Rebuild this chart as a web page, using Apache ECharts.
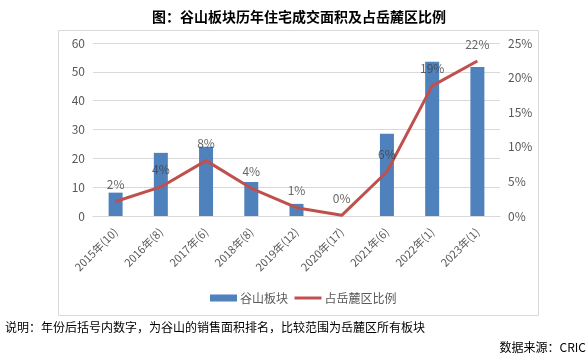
<!DOCTYPE html>
<html>
<head>
<meta charset="utf-8">
<script src="https://cdn.jsdelivr.net/npm/echarts@6/dist/echarts.min.js"></script>
<style>
html,body{margin:0;padding:0;background:#fff;}
#c{width:588px;height:364px;}
</style>
</head>
<body>
<div id="c"></div>
<script>
var categories = ['2015年(10)','2016年(8)','2017年(6)','2018年(8)','2019年(12)','2020年(17)','2021年(6)','2022年(1)','2023年(1)'];
var areaValues = [8.1, 21.9, 24, 11.8, 4.2, 0, 28.5, 53.5, 51.7];
var shareValues = [2.1, 4.2, 8.0, 4.0, 1.2, 0.1, 6.4, 18.8, 22.4];
var shareLabels = ['2%','4%','8%','4%','1%','0%','6%','19%','22%'];
var leftTicks = {min: 0, max: 60, interval: 10};
var rightTicks = {min: 0, max: 25, interval: 5};
var titleText = '图：谷山板块历年住宅成交面积及占岳麓区比例';
var noteText = '说明：年份后括号内数字，为谷山的销售面积排名，比较范围为岳麓区所有板块';
var sourceText = '数据来源：CRIC';
var seriesNames = ['谷山板块', '占岳麓区比例'];

var font = '"Noto Sans CJK SC", "Microsoft YaHei", sans-serif';
var blankSymbol = 'image://data:image/gif;base64,R0lGODlhAQABAIAAAAAAAP///yH5BAEAAAAALAAAAAABAAEAAAIBRAA7';
var chart = echarts.init(document.getElementById('c'), null, {renderer: 'canvas'});
chart.setOption({
  animation: false,
  textStyle: {fontFamily: font},
  grid: {left: 93, right: 88, top: 43, bottom: 148, containLabel: false},
  legend: {
    data: [
      {name: seriesNames[0], icon: 'rect'},
      {name: seriesNames[1], lineStyle: {color: '#C0504D', width: 3, opacity: 1}}
    ],
    left: 205, top: 287,
    itemWidth: 27, itemHeight: 7, itemGap: 5,
    textStyle: {color: '#595959', fontSize: 12, fontFamily: font, padding: [0,0,0,-2]}
  },
  xAxis: {
    type: 'category',
    data: categories,
    axisLine: {lineStyle: {color: '#d9d9d9'}},
    axisTick: {show: false},
    axisLabel: {rotate: 45, color: '#595959', fontSize: 11, interval: 0, margin: 14, fontFamily: font}
  },
  yAxis: [{
    type: 'value', min: leftTicks.min, max: leftTicks.max, interval: leftTicks.interval,
    axisLine: {show: false}, axisTick: {show: false},
    axisLabel: {color: '#595959', fontSize: 12, margin: 8},
    splitLine: {lineStyle: {color: '#d9d9d9'}}
  }, {
    type: 'value', min: rightTicks.min, max: rightTicks.max, interval: rightTicks.interval,
    axisLine: {show: false}, axisTick: {show: false},
    axisLabel: {color: '#595959', fontSize: 12, margin: 8, formatter: '{value}%'},
    splitLine: {show: false}
  }],
  series: [{
    name: seriesNames[0], type: 'bar', data: areaValues, barWidth: 14,
    itemStyle: {color: '#4F81BD'}
  }, {
    name: seriesNames[1], type: 'line', yAxisIndex: 1, data: shareValues,
    symbol: blankSymbol, showSymbol: false, z: 3,
    lineStyle: {color: '#C0504D', width: 3},
    itemStyle: {color: '#C0504D'}
  }, {
    name: 'labels', type: 'scatter', yAxisIndex: 1, data: shareValues,
    symbolSize: 0, z: 4, silent: true,
    itemStyle: {color: 'rgba(0,0,0,0)'},
    label: {show: true, position: 'top', distance: 11, color: '#404040', fontSize: 12,
      formatter: function(p){ return shareLabels[p.dataIndex]; }}
  }],
  graphic: [{
    type: 'rect', shape: {x: 58.5, y: 30.5, width: 480, height: 285},
    style: {fill: 'none', stroke: '#d9d9d9', lineWidth: 1}, silent: true, z: -1
  }, {
    type: 'text', x: 299, y: 17,
    style: {text: titleText, fill: '#000', font: 'bold 14px ' + font, textAlign: 'center', textVerticalAlign: 'middle'}
  }, {
    type: 'text', x: 5, y: 327,
    style: {text: noteText, fill: '#000', font: '12px ' + font, textAlign: 'left', textVerticalAlign: 'middle'}
  }, {
    type: 'text', x: 586, y: 347,
    style: {text: sourceText, fill: '#000', font: '12px ' + font, textAlign: 'right', textVerticalAlign: 'middle'}
  }]
});
</script>
</body>
</html>
